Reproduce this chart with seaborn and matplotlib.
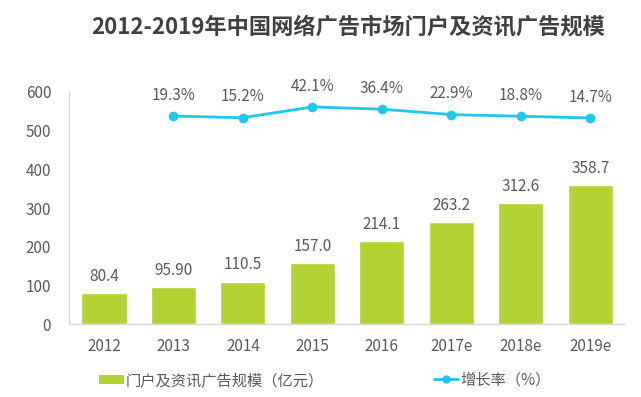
import numpy as np
import matplotlib
matplotlib.use("Agg")
import matplotlib.pyplot as plt
import seaborn as sns
from matplotlib.patches import Patch
from matplotlib.lines import Line2D

# --- DATA ---
years = ["2012", "2013", "2014", "2015", "2016", "2017e", "2018e", "2019e"]
scale = [80.4, 95.9, 110.5, 157.0, 214.1, 263.2, 312.6, 358.7]
scale_labels = ["80.4", "95.90", "110.5", "157.0", "214.1", "263.2", "312.6", "358.7"]
growth_years = ["2013", "2014", "2015", "2016", "2017e", "2018e", "2019e"]
growth = [19.3, 15.2, 42.1, 36.4, 22.9, 18.8, 14.7]

TITLE = "2012-2019年中国网络广告市场门户及资讯广告规模"
BAR_LABEL = "门户及资讯广告规模（亿元）"
LINE_LABEL = "增长率（%）"

BAR_COLOR = "#b3d234"
LINE_COLOR = "#1fc6ef"
TEXT_COLOR = "#595959"

sns.set_style("white")
plt.rcParams["font.family"] = ["Noto Sans CJK SC", "DejaVu Sans"]

fig = plt.figure(figsize=(6.41, 3.97), dpi=100)
ax = fig.add_axes([0.108, 0.183, 0.867, 0.586])

# bars
sns.barplot(x=years, y=scale, color=BAR_COLOR, width=0.65, saturation=1, ax=ax)
for i, (v, lab) in enumerate(zip(scale, scale_labels)):
    ax.annotate(lab, (i, v), xytext=(0, 12), textcoords="offset points",
                ha="center", va="center", fontsize=11, color=TEXT_COLOR)

ax.set_ylim(0, 600)
ax.set_yticks(range(0, 601, 100))
ax.set_xlim(-0.5, len(years) - 0.5)
ax.tick_params(axis="both", length=0, labelsize=11, labelcolor=TEXT_COLOR)
ax.tick_params(axis="x", pad=10)
ax.tick_params(axis="y", pad=13)
for s in ["top", "right"]:
    ax.spines[s].set_visible(False)
for s in ["left", "bottom"]:
    ax.spines[s].set_color("#d9d9d9")
    ax.spines[s].set_linewidth(1)
ax.set_xlabel("")
ax.set_ylabel("")

# growth line on hidden secondary axis
ax2 = ax.twinx()
pos = [years.index(y) for y in growth_years]
sns.lineplot(x=pos, y=growth, color=LINE_COLOR, lw=2, marker="o",
             markersize=7, markeredgewidth=0, ax=ax2)
for p, g in zip(pos, growth):
    ax2.annotate(f"{g}%", (p, g), xytext=(0, 15), textcoords="offset points",
                 ha="center", va="center", fontsize=11, color=TEXT_COLOR)
ax2.set_ylim(-500, 80)
ax2.set_yticks([])
for s in ax2.spines.values():
    s.set_visible(False)

# title
fig.text(0.543, 0.932, TITLE, ha="center", va="center", fontsize=16,
         fontweight="bold", color="#404040")

# legends
h1 = Patch(facecolor=BAR_COLOR, edgecolor="none")
leg1 = fig.legend([h1], [BAR_LABEL], loc="center left",
                  bbox_to_anchor=(0.155, 0.042), frameon=False, fontsize=11,
                  handlelength=1.6, handleheight=0.55, handletextpad=0.15,
                  labelcolor=TEXT_COLOR, borderaxespad=0, borderpad=0)
h2 = Line2D([], [], color=LINE_COLOR, lw=2, marker="o", markersize=6,
            markeredgewidth=0)
leg2 = fig.legend([h2], [LINE_LABEL], loc="center left",
                  bbox_to_anchor=(0.677, 0.042), frameon=False, fontsize=11,
                  handlelength=1.6, handletextpad=0.15,
                  labelcolor=TEXT_COLOR, borderaxespad=0, borderpad=0)

fig.savefig("out.png", dpi=100)
